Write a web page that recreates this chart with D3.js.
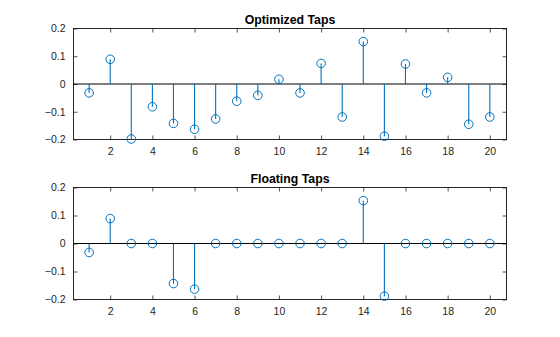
<!DOCTYPE html>
<html>
<head>
<meta charset="utf-8">
<script src="https://cdn.jsdelivr.net/npm/d3@7"></script>
<style>
  html, body { margin: 0; padding: 0; background: #fff; }
  svg { display: block; font-family: "Liberation Sans", Arial, Helvetica, sans-serif; }
</style>
</head>
<body>
<svg id="chart" width="560" height="337"></svg>
<script>
// Tap indices 1..20
const tapIndex = d3.range(1, 21);

// Quantized (optimized) filter taps
const optimizedTaps = [
  -0.032, 0.089, -0.198, -0.082, -0.142, -0.163, -0.126, -0.062, -0.041, 0.017,
  -0.032, 0.074, -0.119, 0.153, -0.188, 0.072, -0.032, 0.024, -0.145, -0.119
];

// Floating-point taps (small taps pruned to zero)
const floatingTaps = [
  -0.032, 0.089, 0, 0, -0.143, -0.163, 0, 0, 0, 0,
  0, 0, 0, 0.153, -0.188, 0, 0, 0, 0, 0
];

const xTicks = [2, 4, 6, 8, 10, 12, 14, 16, 18, 20];
const yTicks = [-0.2, -0.1, 0, 0.1, 0.2];

const svg = d3.select("#chart");
const axisColor = "#262626";
const stemColor = "#0072BD";

function stemPlot(values, title, top, bottom) {
  const left = 73.5, right = 506.5;
  const x = d3.scaleLinear().domain([0.26, 20.79]).range([left, right]);
  const y = d3.scaleLinear().domain([-0.2, 0.2]).range([bottom, top]);
  const g = svg.append("g");

  // y tick labels and inward ticks
  const yAxis = d3.axisLeft(y).tickValues(yTicks)
    .tickFormat(d => d === 0 ? "0" : d3.format(".1f")(d))
    .tickSizeInner(-4).tickSizeOuter(0).tickPadding(8);
  const ya = g.append("g").attr("transform", `translate(${left},0)`).call(yAxis);
  const yaR = g.append("g").attr("transform", `translate(${right},0)`)
    .call(d3.axisRight(y).tickValues(yTicks).tickSizeInner(-4).tickSizeOuter(0).tickFormat(""));

  const xAxis = d3.axisBottom(x).tickValues(xTicks)
    .tickSizeInner(-4).tickSizeOuter(0).tickPadding(8);
  const xa = g.append("g").attr("transform", `translate(0,${bottom})`).call(xAxis);
  const xaT = g.append("g").attr("transform", `translate(0,${top})`)
    .call(d3.axisTop(x).tickValues(xTicks).tickSizeInner(-4).tickSizeOuter(0).tickFormat(""));

  [ya, yaR, xa, xaT].forEach(a => {
    a.select(".domain").remove();
    a.selectAll(".tick line").attr("stroke", axisColor).attr("stroke-width", 0.8);
    a.selectAll(".tick text").attr("fill", axisColor).attr("font-size", 10.5);
  });

  // axes box
  g.append("rect")
    .attr("x", left).attr("y", top)
    .attr("width", right - left).attr("height", bottom - top)
    .attr("fill", "none").attr("stroke", axisColor).attr("stroke-width", 1);

  // baseline at zero
  g.append("line")
    .attr("x1", left).attr("x2", right)
    .attr("y1", y(0)).attr("y2", y(0))
    .attr("stroke", "#000").attr("stroke-width", 1);

  const data = tapIndex.map((t, i) => ({ t, v: values[i] }));

  g.append("g").selectAll("line").data(data).join("line")
    .attr("x1", d => x(d.t)).attr("x2", d => x(d.t))
    .attr("y1", y(0)).attr("y2", d => y(d.v))
    .attr("stroke", stemColor).attr("stroke-width", 1.1);

  g.append("g").selectAll("circle").data(data).join("circle")
    .attr("cx", d => x(d.t)).attr("cy", d => y(d.v))
    .attr("r", 4.3)
    .attr("fill", "none").attr("stroke", stemColor).attr("stroke-width", 1);

  g.append("text")
    .attr("x", (left + right) / 2).attr("y", top - 5)
    .attr("text-anchor", "middle")
    .attr("font-size", 12.3).attr("font-weight", "bold")
    .attr("fill", "#000")
    .text(title);
}

stemPlot(optimizedTaps, "Optimized Taps", 28.5, 139.5);
stemPlot(floatingTaps, "Floating Taps", 187.5, 299.5);
</script>
</body>
</html>
